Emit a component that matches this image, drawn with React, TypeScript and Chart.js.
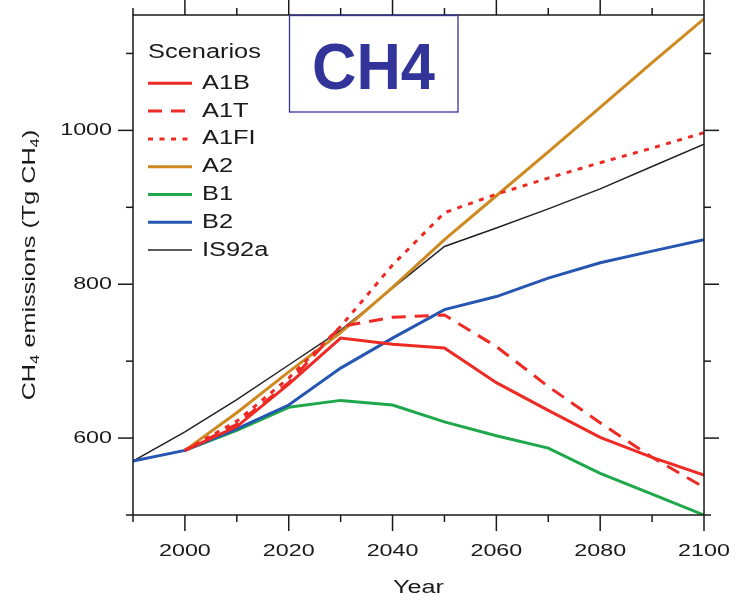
import React, { useEffect, useRef } from "react";
import { Chart, registerables } from "chart.js";

Chart.register(...registerables);

// ---- data ----
const years = [1990, 2000, 2010, 2020, 2030, 2040, 2050, 2060, 2070, 2080, 2090, 2100];
const seriesA1B = [null, 584, 615, 670, 730, 722, 717, 672, 636, 601, 575, 552];
const seriesA1T = [null, 584, 618, 672, 745, 757, 760, 719, 667, 620, 575, 536];
const seriesA1FI = [null, 584, 622, 678, 745, 825, 893, 917, 938, 958, 977, 997];
const seriesA2 = [null, 584, 633, 686, 737, 796, 858, 915, 972, 1030, 1088, 1145];
const seriesB1 = [null, 584, 610, 640, 649, 643, 621, 603, 587, 554, 527, 500];
const seriesB2 = [570, 584, 612, 643, 691, 730, 767, 784, 808, 828, 843, 858];
const seriesIS92a = [570, 608, 650, 695, 740, 795, 849, 873, 898, 924, 953, 982];

const xTicks = [1990, 2000, 2010, 2020, 2030, 2040, 2050, 2060, 2070, 2080, 2090, 2100];
const xLabelTicks = [2000, 2020, 2040, 2060, 2080, 2100];
const yTicks = [500, 600, 700, 800, 900, 1000, 1100];
const yLabelTicks = [600, 800, 1000];

const legendTitle = "Scenarios";
const panelTitle = "CH4";
const xTitle = "Year";

const FONT = "'Liberation Sans', Arial, Helvetica, sans-serif";
const TEXT = "#1a1a1a";

function toPoints(vals: (number | null)[]) {
  return years.map((x, i) => ({ x, y: vals[i] }));
}

function stretchText(
  ctx: CanvasRenderingContext2D,
  text: string,
  x: number,
  y: number,
  align: "left" | "center" | "right",
  sx: number,
  font: string,
  color: string,
  baseline: CanvasTextBaseline
) {
  ctx.save();
  ctx.font = font;
  ctx.fillStyle = color;
  ctx.textBaseline = baseline;
  ctx.textAlign = "left";
  const w = ctx.measureText(text).width * sx;
  const x0 = align === "left" ? x : align === "center" ? x - w / 2 : x - w;
  ctx.translate(x0, y);
  ctx.scale(sx, 1);
  ctx.fillText(text, 0, 0);
  ctx.restore();
}

const decorPlugin = {
  id: "decor",
  afterDatasetsDraw(chart: any) {
    const { ctx, chartArea: a, scales } = chart;
    const xs = scales.x;
    const ys = scales.y;
    ctx.save();
    // frame
    ctx.strokeStyle = "#1a1a1a";
    ctx.lineWidth = 1.5;
    ctx.strokeRect(a.left, a.top, a.right - a.left, a.bottom - a.top);
    ctx.lineWidth = 1.5;
    const line = (x1: number, y1: number, x2: number, y2: number) => {
      ctx.beginPath();
      ctx.moveTo(x1, y1);
      ctx.lineTo(x2, y2);
      ctx.stroke();
    };
    for (const t of xs.ticks) {
      const px = xs.getPixelForValue(t.value);
      const major = xLabelTicks.includes(t.value);
      line(px, a.bottom, px, a.bottom + (major ? 16 : 7));
      line(px, a.top, px, a.top - (major ? 15 : 7));
      if (major) {
        stretchText(ctx, String(t.value), px, 556, "center", 1.37, `17px ${FONT}`, TEXT, "alphabetic");
      }
    }
    for (const t of ys.ticks) {
      const py = ys.getPixelForValue(t.value);
      const major = yLabelTicks.includes(t.value);
      line(a.left, py, a.left - (major ? 15 : 7), py);
      line(a.right, py, a.right + (major ? 15 : 7), py);
      if (major) {
        stretchText(ctx, String(t.value), 112, py, "right", 1.37, `17px ${FONT}`, TEXT, "middle");
      }
    }
    // x title
    stretchText(ctx, xTitle, (a.left + a.right) / 2, 593, "center", 1.4, `18px ${FONT}`, TEXT, "alphabetic");
    // y title with subscripts
    const segs: [string, boolean][] = [
      ["CH", false],
      ["4", true],
      [" emissions (Tg CH", false],
      ["4", true],
      [")", false],
    ];
    const sx = 1.4;
    const nFont = `18px ${FONT}`;
    const sFont = `12px ${FONT}`;
    let total = 0;
    for (const [s, sub] of segs) {
      ctx.font = sub ? sFont : nFont;
      total += ctx.measureText(s).width * sx;
    }
    ctx.save();
    ctx.translate(35, (a.top + a.bottom) / 2);
    ctx.rotate(-Math.PI / 2);
    let cx = -total / 2;
    ctx.fillStyle = TEXT;
    ctx.textBaseline = "alphabetic";
    ctx.textAlign = "left";
    for (const [s, sub] of segs) {
      ctx.font = sub ? sFont : nFont;
      const w = ctx.measureText(s).width;
      ctx.save();
      ctx.translate(cx, sub ? 4 : 0);
      ctx.scale(sx, 1);
      ctx.fillText(s, 0, 0);
      ctx.restore();
      cx += w * sx;
    }
    ctx.restore();

    // legend
    stretchText(ctx, legendTitle, 148, 52, "left", 1.27, `20px ${FONT}`, TEXT, "middle");
    chart.data.datasets.forEach((ds: any, i: number) => {
      const yy = 83.3 + i * 27.8;
      ctx.save();
      ctx.strokeStyle = ds.borderColor;
      ctx.lineWidth = ds.borderWidth;
      ctx.setLineDash(ds.borderDash || []);
      ctx.beginPath();
      ctx.moveTo(148, yy);
      ctx.lineTo(192, yy);
      ctx.stroke();
      ctx.restore();
      stretchText(ctx, ds.label, 202, yy, "left", 1.27, `20px ${FONT}`, TEXT, "middle");
    });

    // CH4 panel box
    ctx.fillStyle = "#ffffff";
    ctx.fillRect(289.5, 15.5, 168.5, 96.5);
    ctx.strokeStyle = "#33339a";
    ctx.lineWidth = 1.3;
    ctx.strokeRect(289.5, 15.5, 168.5, 96.5);
    stretchText(ctx, panelTitle, 373.5, 89, "center", 0.96, `bold 64px ${FONT}`, "#32349a", "alphabetic");
    ctx.restore();
  },
};

export default function App() {
  const ref = useRef<HTMLCanvasElement | null>(null);
  useEffect(() => {
    if (!ref.current) return;
    const red = "#ee2a24";
    const chart = new Chart(ref.current, {
      type: "line",
      data: {
        datasets: [
          { label: "A1B", data: toPoints(seriesA1B), borderColor: red, borderWidth: 3, order: 1 },
          { label: "A1T", data: toPoints(seriesA1T), borderColor: red, borderWidth: 3, borderDash: [14, 9], order: 2 },
          { label: "A1FI", data: toPoints(seriesA1FI), borderColor: red, borderWidth: 3, borderDash: [5, 6.5], order: 3 },
          { label: "A2", data: toPoints(seriesA2), borderColor: "#cf8a1f", borderWidth: 3, order: 5 },
          { label: "B1", data: toPoints(seriesB1), borderColor: "#1ea84b", borderWidth: 3, order: 6 },
          { label: "B2", data: toPoints(seriesB2), borderColor: "#2756b2", borderWidth: 3, order: 4 },
          { label: "IS92a", data: toPoints(seriesIS92a), borderColor: "#222222", borderWidth: 1.5, order: 7 },
        ] as any,
      },
      options: {
        animation: false,
        responsive: true,
        maintainAspectRatio: false,
        layout: { padding: { top: 15, right: 33, left: 0, bottom: 0 } },
        elements: { point: { radius: 0 }, line: { tension: 0, fill: false } },
        plugins: { legend: { display: false }, tooltip: { enabled: false } },
        scales: {
          x: {
            type: "linear",
            min: 1990,
            max: 2100,
            grid: { display: false, drawTicks: false },
            border: { display: false },
            ticks: { display: false },
            afterBuildTicks: (s: any) => {
              s.ticks = xTicks.map((v) => ({ value: v }));
            },
            afterFit: (s: any) => {
              s.height = 85;
            },
          },
          y: {
            type: "linear",
            min: 500,
            max: 1150,
            grid: { display: false, drawTicks: false },
            border: { display: false },
            ticks: { display: false },
            afterBuildTicks: (s: any) => {
              s.ticks = yTicks.map((v) => ({ value: v }));
            },
            afterFit: (s: any) => {
              s.width = 133;
            },
          },
        },
      } as any,
      plugins: [decorPlugin],
    });
    return () => chart.destroy();
  }, []);
  return (
    <div style={{ position: "fixed", left: 0, top: 0, width: 737, height: 600, background: "#fff" }}>
      <canvas ref={ref} style={{ display: "block" }} />
    </div>
  );
}
